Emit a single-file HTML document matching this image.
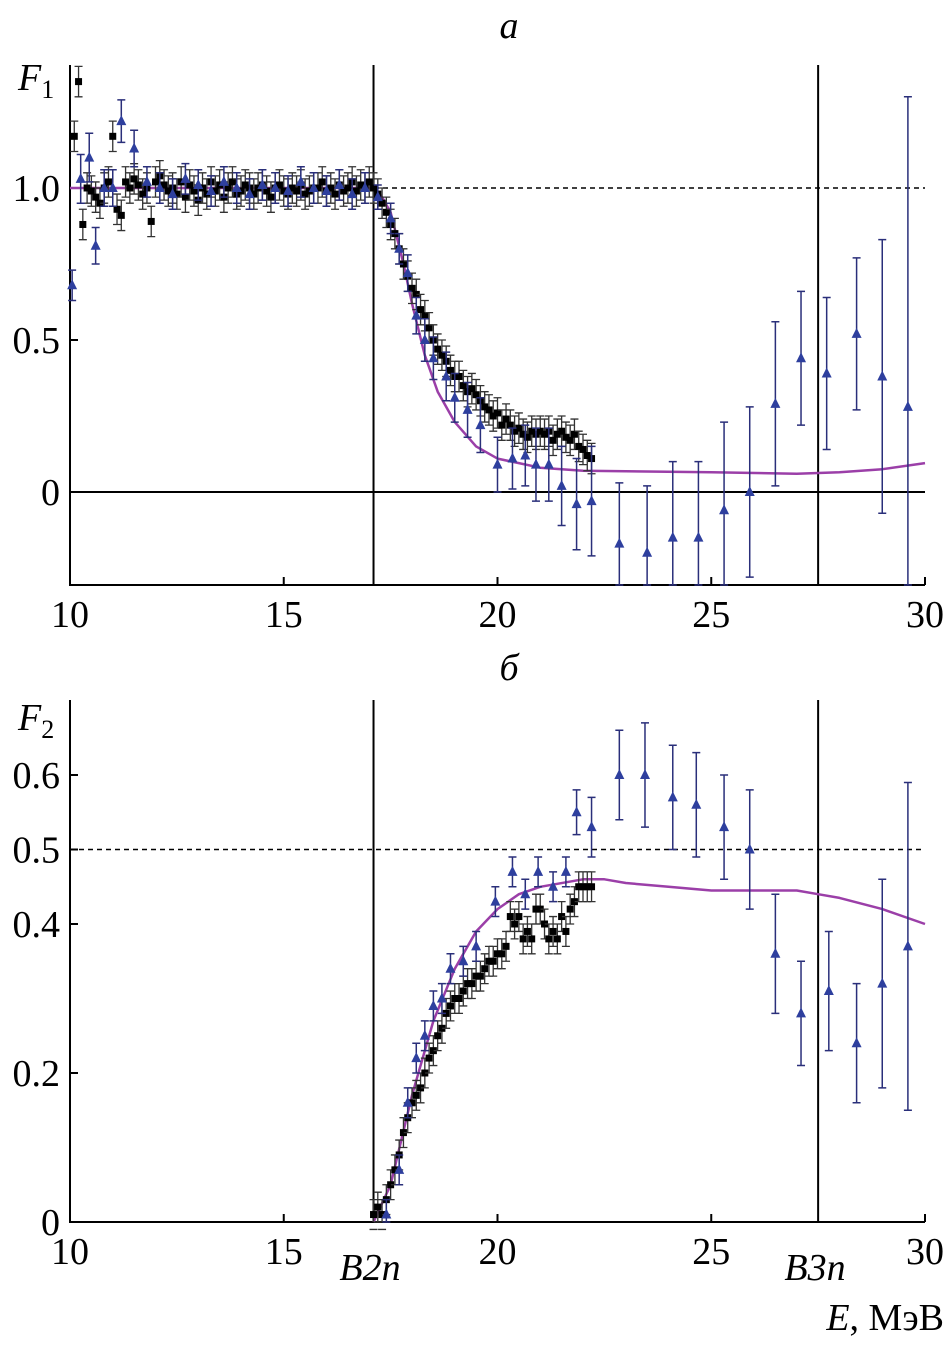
<!DOCTYPE html>
<html><head><meta charset="utf-8">
<style>
html,body{margin:0;padding:0;background:#fff;}
svg{display:block;font-family:"Liberation Serif",serif;}
</style></head>
<body>
<svg id="chart" width="949" height="1348" viewBox="0 0 949 1348" xmlns="http://www.w3.org/2000/svg"></svg>
<script>
// ---------- Data: panel a (F1) ----------
const topBlackE = [10.1,10.2,10.3,10.4,10.5,10.6,10.7,10.8,10.9,11.0,11.1,11.2,11.3,11.4,11.5,11.6,11.7,11.8,11.9,12.0,12.1,12.2,12.3,12.4,12.5,12.6,12.7,12.8,12.9,13.0,13.1,13.2,13.3,13.4,13.5,13.6,13.7,13.8,13.9,14.0,14.1,14.2,14.3,14.4,14.5,14.6,14.7,14.8,14.9,15.0,15.1,15.2,15.3,15.4,15.5,15.6,15.7,15.8,15.9,16.0,16.1,16.2,16.3,16.4,16.5,16.6,16.7,16.8,16.9,17.0,17.1,17.2,17.3,17.4,17.5,17.6,17.7,17.8,17.9,18.0,18.1,18.2,18.3,18.4,18.5,18.6,18.7,18.8,18.9,19.0,19.1,19.2,19.3,19.4,19.5,19.6,19.7,19.8,19.9,20.0,20.1,20.2,20.3,20.4,20.5,20.6,20.7,20.8,20.9,21.0,21.1,21.2,21.3,21.4,21.5,21.6,21.7,21.8,21.9,22.0,22.1,22.2];
const topBlackF = [1.17,1.35,0.88,1.0,0.99,0.97,0.95,1.0,1.02,1.17,0.93,0.91,1.02,1.0,1.03,1.01,0.98,1.0,0.89,1.02,1.04,1.01,0.99,1.0,0.98,1.02,0.97,1.01,0.99,0.96,1.0,0.98,1.02,0.99,1.01,0.97,1.0,1.02,0.98,0.99,1.01,1.0,0.98,1.0,1.01,0.99,0.97,1.0,1.01,0.99,0.98,1.0,0.99,1.01,0.98,0.99,1.0,1.0,1.02,0.99,1.0,0.98,1.01,0.99,1.0,1.02,0.99,1.01,1.0,1.02,1.0,0.98,0.95,0.92,0.88,0.85,0.8,0.75,0.71,0.67,0.65,0.6,0.58,0.54,0.5,0.47,0.45,0.43,0.4,0.38,0.38,0.35,0.33,0.34,0.32,0.3,0.28,0.27,0.25,0.26,0.22,0.24,0.22,0.2,0.21,0.19,0.18,0.2,0.19,0.2,0.19,0.2,0.17,0.19,0.2,0.18,0.17,0.19,0.15,0.14,0.12,0.11];
const topBlueE = [10.05,10.25,10.45,10.6,10.8,11.0,11.2,11.5,11.8,12.1,12.4,12.7,13.0,13.3,13.6,13.9,14.2,14.5,14.8,15.1,15.4,15.7,16.0,16.3,16.6,16.9,17.2,17.5,17.7,17.9,18.1,18.3,18.5,18.8,19.0,19.3,19.6,20.0,20.35,20.65,20.9,21.2,21.5,21.85,22.2,22.85,23.5,24.1,24.7,25.3,25.9,26.5,27.1,27.7,28.4,29.0,29.6];
const topBlueF = [0.68,1.03,1.1,0.81,1.0,1.0,1.22,1.13,1.02,1.0,0.98,1.03,1.01,0.99,1.02,1.0,0.98,1.01,1.0,0.99,1.02,1.0,0.99,1.01,0.98,1.0,0.97,0.9,0.8,0.72,0.58,0.5,0.44,0.38,0.31,0.27,0.22,0.09,0.11,0.12,0.09,0.09,0.02,-0.04,-0.03,-0.17,-0.2,-0.15,-0.15,-0.06,0.0,0.29,0.44,0.39,0.52,0.38,0.28];
const topBlueErr = [0.05,0.08,0.08,0.06,0.06,0.06,0.07,0.06,0.05,0.05,0.05,0.05,0.05,0.05,0.05,0.05,0.05,0.05,0.05,0.05,0.05,0.05,0.05,0.05,0.05,0.05,0.04,0.05,0.05,0.06,0.06,0.07,0.07,0.08,0.08,0.09,0.09,0.09,0.1,0.1,0.12,0.12,0.13,0.15,0.18,0.2,0.22,0.25,0.25,0.29,0.28,0.27,0.22,0.25,0.25,0.45,1.02];
const topCurveE = [10,17.1,17.3,17.5,17.8,18.0,18.3,18.6,19.0,19.5,20,21,22,23,25,27,28,29,30];
const topCurveF = [1.0,1.0,0.97,0.92,0.75,0.62,0.45,0.33,0.23,0.15,0.11,0.08,0.07,0.068,0.065,0.06,0.065,0.075,0.095];

// ---------- Data: panel b (F2) ----------
const botBlackE = [17.1,17.2,17.3,17.4,17.5,17.6,17.7,17.8,17.9,18.0,18.1,18.2,18.3,18.4,18.5,18.6,18.7,18.8,18.9,19.0,19.1,19.2,19.3,19.4,19.5,19.6,19.7,19.8,19.9,20.0,20.1,20.2,20.3,20.4,20.5,20.6,20.7,20.8,20.9,21.0,21.1,21.2,21.3,21.4,21.5,21.6,21.7,21.8,21.9,22.0,22.1,22.2];
const botBlackF = [0.01,0.02,0.01,0.03,0.05,0.07,0.09,0.12,0.14,0.16,0.17,0.18,0.2,0.22,0.23,0.25,0.26,0.28,0.29,0.3,0.3,0.31,0.32,0.32,0.33,0.33,0.34,0.35,0.35,0.36,0.36,0.37,0.41,0.4,0.41,0.38,0.39,0.38,0.42,0.42,0.4,0.38,0.39,0.38,0.41,0.39,0.42,0.43,0.45,0.45,0.45,0.45];
const botBlueE = [17.4,17.7,17.9,18.1,18.3,18.5,18.7,18.9,19.2,19.5,19.95,20.35,20.65,20.95,21.3,21.6,21.85,22.2,22.85,23.45,24.1,24.65,25.3,25.9,26.5,27.1,27.75,28.4,29.0,29.6];
const botBlueF = [0.01,0.07,0.16,0.22,0.25,0.29,0.3,0.34,0.35,0.37,0.43,0.47,0.44,0.47,0.45,0.47,0.55,0.53,0.6,0.6,0.57,0.56,0.53,0.5,0.36,0.28,0.31,0.24,0.32,0.37];
const botBlueErr = [0.02,0.02,0.02,0.02,0.02,0.02,0.02,0.02,0.02,0.02,0.02,0.02,0.02,0.02,0.02,0.02,0.03,0.04,0.06,0.07,0.07,0.07,0.07,0.08,0.08,0.07,0.08,0.08,0.14,0.22];
const botCurveE = [17.1,17.5,18.0,18.5,19.0,19.5,20.0,20.5,21.0,22.0,22.5,23,24,25,26,27,27.5,28,29,30];
const botCurveF = [0,0.05,0.17,0.27,0.34,0.39,0.42,0.44,0.45,0.46,0.46,0.455,0.45,0.445,0.445,0.445,0.44,0.435,0.42,0.4];
const xTicks = [10,15,20,25,30];
const topYTicks = [0,0.5,1.0];
const topYLabels = ["0","0.5","1.0"];
const botYTicks = [0,0.2,0.4,0.5,0.6];
const botYLabels = ["0","0.2","0.4","0.5","0.6"];

// ---------- Axes ----------
const X0=70, X1=925;
const xs = e => X0 + (e-10)*(X1-X0)/20;
const ysA = f => 492 - f*304;
const ysB = f => 1222 - f*745;
const TOP_A=65, BOT_A=585, TOP_B=700, BOT_B=1222;
const NS="http://www.w3.org/2000/svg";
const svg=document.getElementById('chart');
function mk(tag, attrs, parent){const el=document.createElementNS(NS,tag);for(const k in attrs)el.setAttribute(k,attrs[k]);(parent||svg).appendChild(el);return el;}
function clipY(v,lo,hi){return Math.max(lo,Math.min(hi,v));}

function panel(name, ys, top, bot, yt, yl, curveE, curveF, blackE, blackF, blackErr, blueE, blueF, blueErr){
  const g=mk('g',{});
  
  
  const ax=mk('path',{d:`M${X0},${top} V${bot} H${X1}`,stroke:'#000','stroke-width':2,fill:'none'},g);
  
  
  xTicks.forEach(t=>{
    mk('line',{x1:xs(t),x2:xs(t),y1:bot,y2:bot-8,stroke:'#000','stroke-width':2},g);
    const tx=mk('text',{x:xs(t),y:bot+42,'font-size':38,'text-anchor':'middle'},g);
    tx.textContent=t;
    
    
  });
  yt.forEach((t,i)=>{
    mk('line',{x1:X0,x2:X0+8,y1:ys(t),y2:ys(t),stroke:'#000','stroke-width':2},g);
    const tx=mk('text',{x:X0-10,y:ys(t)+13,'font-size':38,'text-anchor':'end'},g);
    tx.textContent=yl[i];
    
    
  });
  [17.1,27.5].forEach(v=>{
    const l=mk('line',{x1:xs(v),x2:xs(v),y1:top,y2:bot,stroke:'#000','stroke-width':2},g);
    
    
  });
  const pts=curveE.map((e,i)=>`${xs(e).toFixed(1)},${ys(curveF[i]).toFixed(1)}`).join(' ');
  const c=mk('polyline',{points:pts,fill:'none',stroke:'#9b3fa8','stroke-width':2.5,'stroke-linejoin':'round'},g);
  
  
  blackE.forEach((e,i)=>{
    const x=xs(e), y=ys(blackF[i]), er=blackErr*(ys(0)-ys(1));
    const eb=mk('path',{d:`M${x},${clipY(y-er,top,bot)}V${clipY(y+er,top,bot)}M${x-4},${y-er}H${x+4}M${x-4},${y+er}H${x+4}`,stroke:'#333','stroke-width':1.3,fill:'none'},g);
    
    
    const s=mk('rect',{x:x-3.5,y:y-3.5,width:7,height:7,fill:'#000'},g);
    
    
  });
  blueE.forEach((e,i)=>{
    const x=xs(e), y=ys(blueF[i]), er=blueErr[i]*(ys(0)-ys(1));
    const y1=clipY(y-er,top,bot), y2=clipY(y+er,top,bot);
    const eb=mk('path',{d:`M${x},${y1}V${y2}M${x-4},${y1}H${x+4}M${x-4},${y2}H${x+4}`,stroke:'#2a2f7a','stroke-width':1.5,fill:'none'},g);
    
    
    const t=mk('polygon',{points:`${x},${y-6} ${x-5},${y+4} ${x+5},${y+4}`,fill:'#2e3f9e'},g);
    
    
  });
}

const dashA=mk('line',{x1:374,x2:X1,y1:ysA(1),y2:ysA(1),stroke:'#000','stroke-width':1.5,'stroke-dasharray':'5,4'});


const zeroA=mk('line',{x1:X0,x2:X1,y1:ysA(0),y2:ysA(0),stroke:'#000','stroke-width':2});


panel('panel-a', ysA, TOP_A, BOT_A, topYTicks, topYLabels, topCurveE, topCurveF, topBlackE, topBlackF, 0.05, topBlueE, topBlueF, topBlueErr);
const dashB=mk('line',{x1:X0,x2:X1,y1:ysB(0.5),y2:ysB(0.5),stroke:'#000','stroke-width':1.5,'stroke-dasharray':'5,4'});


panel('panel-b', ysB, TOP_B, BOT_B, botYTicks, botYLabels, botCurveE, botCurveF, botBlackE, botBlackF, 0.02, botBlueE, botBlueF, botBlueErr);

function label(x,y,html,name,size,anchor){
  const t=mk('text',{x:x,y:y,'font-size':size||38,'font-style':'italic','text-anchor':anchor||'middle'});
  t.innerHTML=html;
  
  
}
label(509,38,'a','panel-a-title');
label(509,680,'б','panel-b-title');
label(18,90,'F<tspan font-size="26" font-style="normal" dy="8">1</tspan>','y-axis-title-f1',38,'start');
label(18,730,'F<tspan font-size="26" font-style="normal" dy="8">2</tspan>','y-axis-title-f2',38,'start');
label(370,1280,'B2n','b2n-threshold-label');
label(815,1280,'B3n','b3n-threshold-label');
label(944,1330,'E<tspan font-style="normal">, МэВ</tspan>','x-axis-title',38,'end');
</script>
</body></html>
